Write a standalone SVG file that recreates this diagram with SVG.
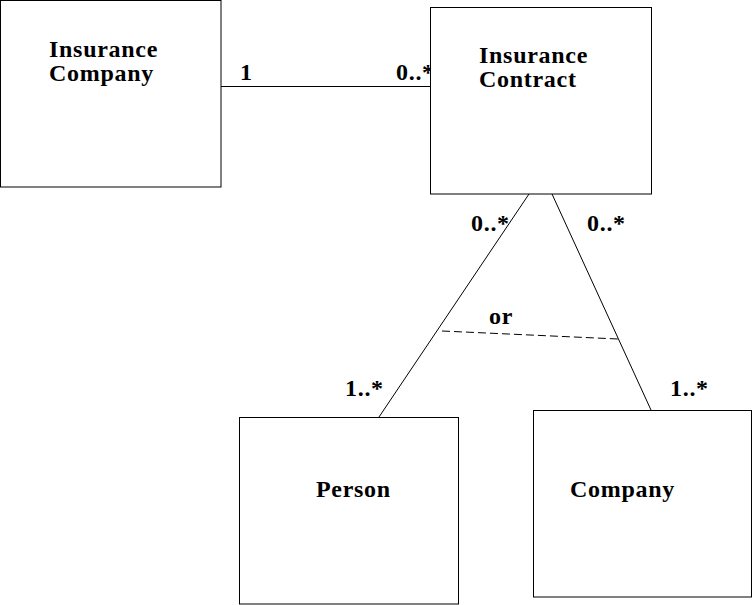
<svg xmlns="http://www.w3.org/2000/svg" width="756" height="605" viewBox="0 0 756 605">
<style>
.box{fill:#fff;stroke:#000;stroke-width:1}
.ln{fill:none;stroke:#000;stroke-width:1}
.dash{stroke-dasharray:8 4}
text{font-family:"Liberation Serif","Times New Roman",serif;font-weight:bold;font-size:24px;letter-spacing:0.7px;fill:#000}
</style>
<rect width="756" height="605" fill="#fff"/>
<g id="connectors">
<line class="ln" x1="221" y1="86.5" x2="430.5" y2="86.5"/>
<line class="ln" x1="529" y1="194" x2="379" y2="417"/>
<line class="ln" x1="552" y1="194" x2="651" y2="410"/>
<line class="ln dash" x1="442" y1="331" x2="618" y2="339"/>
<text x="240" y="80">1</text>
<text x="396" y="80">0..*</text>
<text x="471" y="231">0..*</text>
<text x="587" y="231">0..*</text>
<text x="489" y="324">or</text>
<text x="345" y="396">1..*</text>
<text x="670" y="396">1..*</text>
</g>
<g id="insurance-company">
<rect class="box" x="0.5" y="0.5" width="220.5" height="186.5"/>
<text x="49" y="57">Insurance</text>
<text x="49" y="81">Company</text>
</g>
<g id="insurance-contract">
<rect class="box" x="430.5" y="7.5" width="221" height="186.5"/>
<text x="479" y="63">Insurance</text>
<text x="479" y="87">Contract</text>
</g>
<g id="person">
<rect class="box" x="239.5" y="417.5" width="219" height="186.5"/>
<text x="316" y="497">Person</text>
</g>
<g id="company">
<rect class="box" x="533.5" y="410.5" width="218" height="186.5"/>
<text x="570" y="497">Company</text>
</g>
</svg>
